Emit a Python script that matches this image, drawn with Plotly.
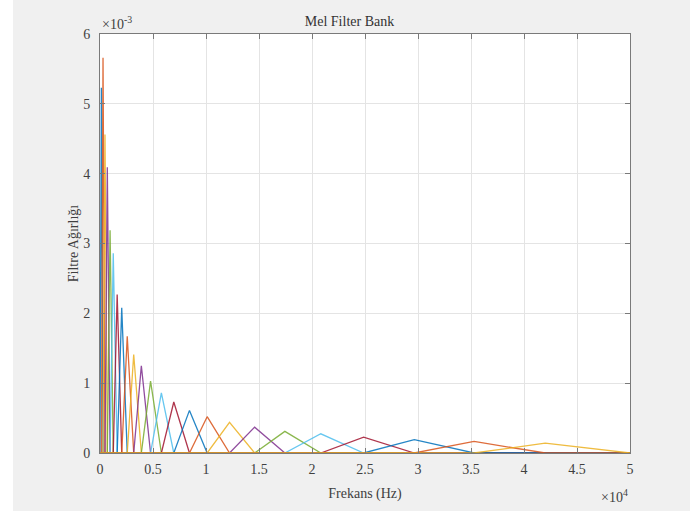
import plotly.graph_objects as go

# Mel filter bank: 24 triangular filters over 0-50 kHz
filter_centers_hz = [130, 285, 470, 690, 950, 1250, 1620, 2050, 2570, 3180,
                     3900, 4770, 5790, 6960, 8440, 10110, 12220, 14590, 17440,
                     20830, 24870, 29650, 35290, 42000]
filter_peaks = [5.23e-3, 5.66e-3, 4.56e-3, 4.09e-3, 3.19e-3, 2.86e-3, 2.27e-3,
                2.08e-3, 1.67e-3, 1.41e-3, 1.25e-3, 1.03e-3, 0.86e-3, 0.73e-3,
                0.61e-3, 0.52e-3, 0.44e-3, 0.37e-3, 0.31e-3, 0.275e-3,
                0.226e-3, 0.19e-3, 0.165e-3, 0.14e-3]
freq_min_hz = 0
freq_max_hz = 50000

x_tick_vals = [0, 5000, 10000, 15000, 20000, 25000, 30000, 35000, 40000, 45000, 50000]
x_tick_text = ["0", "0.5", "1", "1.5", "2", "2.5", "3", "3.5", "4", "4.5", "5"]
y_tick_vals = [0, 0.001, 0.002, 0.003, 0.004, 0.005, 0.006]
y_tick_text = ["0", "1", "2", "3", "4", "5", "6"]

palette = ["#0072BD", "#D95319", "#EDB120", "#7E2F8E", "#77AC30", "#4DBEEE", "#A2142F"]

edges = [freq_min_hz] + filter_centers_hz + [freq_max_hz]

fig = go.Figure()
for i, (c, h) in enumerate(zip(filter_centers_hz, filter_peaks)):
    lo, hi = edges[i], edges[i + 2]
    xs = [freq_min_hz, lo, c, hi, freq_max_hz]
    ys = [0, 0, h, 0, 0]
    fig.add_trace(go.Scatter(
        x=xs, y=ys, mode="lines",
        line=dict(color=palette[i % len(palette)], width=1.3),
        opacity=0.85,
        showlegend=False, hoverinfo="skip",
    ))

font_family = "Times New Roman, Liberation Serif, DejaVu Serif, serif"
text_color = "#404040"
axis_color = "#7a7a7a"
grid_color = "#e4e4e4"
fs = 14

fig.update_layout(
    width=699, height=511,
    margin=dict(l=100, r=69, t=34, b=58),
    paper_bgcolor="#f0f0f0",
    plot_bgcolor="white",
    font=dict(family=font_family, size=fs, color=text_color),
    title=dict(text="Mel Filter Bank", x=(365 - 100) / 530, xanchor="center",
               y=1 - 21 / 511, yanchor="middle",
               font=dict(family=font_family, size=fs, color="#333333")),
    showlegend=False,
)

fig.update_xaxes(
    range=[freq_min_hz, freq_max_hz],
    tickvals=x_tick_vals, ticktext=x_tick_text,
    ticks="inside", ticklen=5, tickcolor=axis_color, tickwidth=1,
    ticklabelstandoff=3,
    showline=True, linecolor=axis_color, linewidth=1, mirror="ticks",
    showgrid=True, gridcolor=grid_color, gridwidth=1,
    zeroline=False,
    title=dict(text="Frekans (Hz)", standoff=12,
               font=dict(family=font_family, size=fs, color=text_color)),
    tickfont=dict(family=font_family, size=fs, color=text_color),
)
fig.update_yaxes(
    range=[0, 0.006],
    tickvals=y_tick_vals, ticktext=y_tick_text,
    ticks="inside", ticklen=5, tickcolor=axis_color, tickwidth=1,
    ticklabelstandoff=6,
    showline=True, linecolor=axis_color, linewidth=1, mirror="ticks",
    showgrid=True, gridcolor=grid_color, gridwidth=1,
    zeroline=False,
    title=dict(text="Filtre Ağırlığı", standoff=1,
               font=dict(family=font_family, size=fs, color=text_color)),
    tickfont=dict(family=font_family, size=fs, color=text_color),
)

# exponent labels in the MATLAB style
fig.add_annotation(text="×10<sup>-3</sup>", xref="paper", yref="paper",
                   x=0, y=1, xanchor="left", yanchor="bottom", yshift=0,
                   showarrow=False,
                   font=dict(family=font_family, size=fs, color=text_color))
fig.add_annotation(text="×10<sup>4</sup>", xref="paper", yref="paper",
                   x=1, y=0, xanchor="right", yanchor="top", yshift=-32,
                   showarrow=False,
                   font=dict(family=font_family, size=fs, color=text_color))

# white strips at the outer left and right edges of the window
fig.add_shape(type="rect", xref="paper", yref="paper",
              x0=-100 / 530, x1=-87 / 530, y0=-58 / 419, y1=(419 + 34) / 419,
              fillcolor="white", line_width=0, layer="below")
fig.add_shape(type="rect", xref="paper", yref="paper",
              x0=(690 - 100) / 530, x1=(699 - 100) / 530, y0=-58 / 419, y1=(419 + 34) / 419,
              fillcolor="white", line_width=0, layer="below")

fig.write_html("out.html")
